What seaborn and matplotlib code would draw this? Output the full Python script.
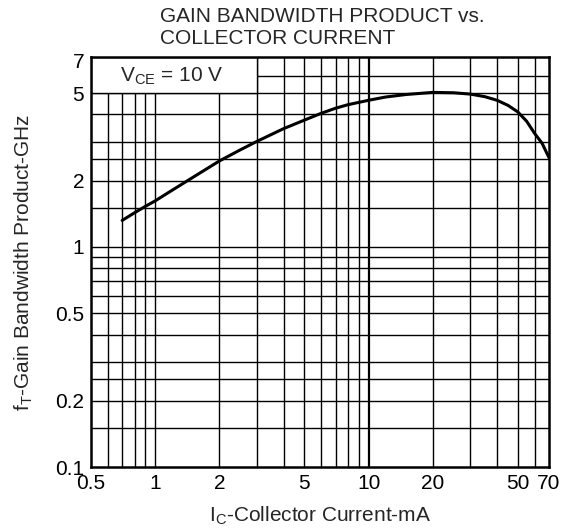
import matplotlib
matplotlib.use("Agg")
import matplotlib.pyplot as plt
import seaborn as sns
from matplotlib.patches import Rectangle
from matplotlib.ticker import NullFormatter


# DATA

current_ma = [0.7, 0.8, 0.9, 1, 1.2, 1.5, 2, 2.5, 3, 4, 5, 6, 7, 8, 10, 12, 15, 20, 25, 30, 35, 40, 45, 50, 55, 60, 65, 70]
ft_ghz = [1.32, 1.43, 1.53, 1.62, 1.81, 2.07, 2.46, 2.76, 3.02, 3.45, 3.77, 4.05, 4.27, 4.43, 4.64, 4.80, 4.93, 5.04, 5.02, 4.95, 4.82, 4.64, 4.40, 4.11, 3.73, 3.28, 2.96, 2.55]

x_major = [0.5, 1, 2, 5, 10, 20, 50, 70]
x_major_labels = ["0.5", "1", "2", "5", "10", "20", "50", "70"]
x_grid = [0.6, 0.7, 0.8, 0.9, 1, 2, 3, 4, 5, 6, 7, 8, 9, 20, 30, 40, 50, 60]

y_major = [0.1, 0.2, 0.5, 1, 2, 5, 7]
y_major_labels = ["0.1", "0.2", "0.5", "1", "2", "5", "7"]
y_grid = [0.15, 0.2, 0.25, 0.3, 0.4, 0.5, 0.6, 0.7, 0.8, 0.9, 1, 1.5, 2, 2.5, 3, 4, 5, 6]

FS = 15


# STYLE

sns.set_theme(style="white")
plt.rcParams["font.family"] = ["Liberation Sans", "DejaVu Sans"]
plt.rcParams["mathtext.fontset"] = "custom"
plt.rcParams["mathtext.rm"] = "Liberation Sans"

fig = plt.figure(figsize=(5.63, 5.31), dpi=100)
ax = fig.add_axes([0.1616, 0.1205, 0.8134, 0.7722])

ax.set_xscale("log")
ax.set_yscale("log")
ax.set_xlim(0.5, 70)
ax.set_ylim(0.1, 7.3)


# GRID

for xv in x_grid:
    ax.axvline(xv, color="black", lw=1.0, zorder=1)
ax.axvline(10, color="black", lw=1.6, zorder=1)
for yv in y_grid:
    ax.axhline(yv, color="black", lw=1.0, zorder=1)

# white box with the test condition, covering the grid
box = Rectangle((0.5, 5), 3 - 0.5, 7.3 - 5, facecolor="white",
                edgecolor="black", lw=1.0, zorder=2)
ax.add_patch(box)
ax.text(1.19, 6.0, r"V$_\mathregular{CE}$ = 10 V", ha="center", va="center",
        fontsize=FS, zorder=3)


# CURVE

sns.lineplot(x=current_ma, y=ft_ghz, ax=ax, color="black", lw=2.2, zorder=4)


# AXES

ax.set_xticks(x_major)
ax.set_xticklabels(x_major_labels)
ax.set_xticks([], minor=True)
ax.set_yticks(y_major)
ax.set_yticklabels(y_major_labels)
ax.set_yticks([], minor=True)
ax.xaxis.set_minor_formatter(NullFormatter())
ax.yaxis.set_minor_formatter(NullFormatter())
ax.tick_params(axis="both", which="both", length=0, labelsize=FS, colors="black")
ax.tick_params(axis="x", pad=5)
ax.tick_params(axis="y", pad=5)

for s in ax.spines.values():
    s.set_color("black")
    s.set_linewidth(1.8)
    s.set_zorder(5)

ax.set_xlabel(r"I$_\mathregular{C}$-Collector Current-mA", fontsize=FS, labelpad=8)
ax.set_ylabel(r"f$_\mathregular{T}$-Gain Bandwidth Product-GHz", fontsize=FS, labelpad=14)

fig.text(0.284, 0.948, "GAIN BANDWIDTH PRODUCT vs.\nCOLLECTOR CURRENT",
         ha="left", va="center", fontsize=FS, linespacing=1.15)

fig.savefig("out.png", dpi=100)
plt.close()
